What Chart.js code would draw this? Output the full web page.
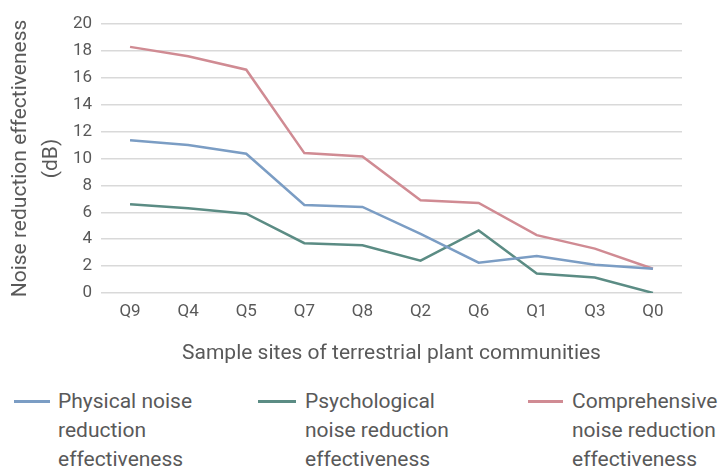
<!DOCTYPE html>
<html>
<head>
<meta charset="utf-8">
<script src="https://cdn.jsdelivr.net/npm/chart.js@4/dist/chart.umd.min.js"></script>
<style>
  html, body { margin: 0; padding: 0; background: #fff; }
  body { width: 721px; height: 468px; position: relative; overflow: hidden; font-family: Roboto, "DejaVu Sans", sans-serif; color: #595959; }
  #wrap { position: absolute; left: 0; top: 0; width: 721px; height: 372px; }
  .leg { position: absolute; top: 387px; font-size: 21px; line-height: 29px; }
  .leg .mark { position: absolute; top: 13px; height: 3px; }
</style>
</head>
<body>
<div id="wrap"><canvas id="chartCanvas"></canvas></div>
<div id="legend"></div>
<script>
const sites = ['Q9', 'Q4', 'Q5', 'Q7', 'Q8', 'Q2', 'Q6', 'Q1', 'Q3', 'Q0'];
const physical = [11.35, 11.0, 10.35, 6.55, 6.4, 4.4, 2.25, 2.75, 2.1, 1.8];
const psychological = [6.6, 6.3, 5.9, 3.7, 3.55, 2.4, 4.65, 1.45, 1.15, 0.0];
const comprehensive = [18.3, 17.6, 16.6, 10.4, 10.15, 6.9, 6.7, 4.3, 3.3, 1.8];
const yTicks = [0, 2, 4, 6, 8, 10, 12, 14, 16, 18, 20];

const seriesLines = [
  ['Physical noise', 'reduction', 'effectiveness'],
  ['Psychological', 'noise reduction', 'effectiveness'],
  ['Comprehensive', 'noise reduction', 'effectiveness']
];
const colors = ['#7b9dc4', '#5b8c84', '#d08b93'];

const txt = '#595959';
const grid = '#d9d9d9';
const font = 'Roboto, "DejaVu Sans", sans-serif';

const ctx = document.getElementById('chartCanvas').getContext('2d');
const chart = new Chart(ctx, {
  type: 'line',
  data: {
    labels: sites,
    datasets: [physical, psychological, comprehensive].map((d, i) => ({
      label: seriesLines[i].join(' '),
      data: d,
      borderColor: colors[i],
      borderWidth: 2.5,
      pointRadius: 0,
      tension: 0,
      fill: false
    }))
  },
  options: {
    responsive: true,
    maintainAspectRatio: false,
    animation: false,
    layout: { padding: { left: 0, right: 39, top: 24, bottom: 0 } },
    plugins: { legend: { display: false }, tooltip: { enabled: false } },
    scales: {
      x: {
        offset: true,
        grid: { display: false, drawTicks: false },
        border: { display: false },
        afterFit: (s) => { s.height = 79; },
        ticks: { color: txt, font: { family: font, size: 17 }, padding: 9 },
        title: {
          display: true,
          text: 'Sample sites of terrestrial plant communities',
          color: txt,
          font: { family: font, size: 21 },
          padding: { top: 0, bottom: 6 }
        }
      },
      y: {
        min: 0,
        max: 20,
        afterBuildTicks: (s) => { s.ticks = yTicks.map(v => ({ value: v })); },
        afterFit: (s) => { s.width = 101; },
        grid: { color: grid, lineWidth: 1.5, drawTicks: false },
        border: { display: false },
        ticks: { color: txt, font: { family: font, size: 17 }, padding: 9 },
        title: {
          display: true,
          text: ['Noise reduction effectiveness', '(dB)'],
          color: txt,
          font: { family: font, size: 21, lineHeight: 1.45 },
          padding: { top: 6, bottom: 0 }
        }
      }
    }
  }
});

// html legend from the datasets
const legendX = [[14, 50, 58], [258, 296, 305], [528, 563, 572]];
const leg = document.getElementById('legend');
chart.data.datasets.forEach((ds, i) => {
  const d = document.createElement('div');
  d.className = 'leg';
  d.style.left = legendX[i][0] + 'px';
  d.style.paddingLeft = (legendX[i][2] - legendX[i][0]) + 'px';
  const m = document.createElement('div');
  m.className = 'mark';
  m.style.left = '0px';
  m.style.width = (legendX[i][1] - legendX[i][0]) + 'px';
  m.style.background = ds.borderColor;
  d.appendChild(m);
  seriesLines[i].forEach(t => {
    const l = document.createElement('div');
    l.textContent = t;
    d.appendChild(l);
  });
  leg.appendChild(d);
});
</script>
</body>
</html>
